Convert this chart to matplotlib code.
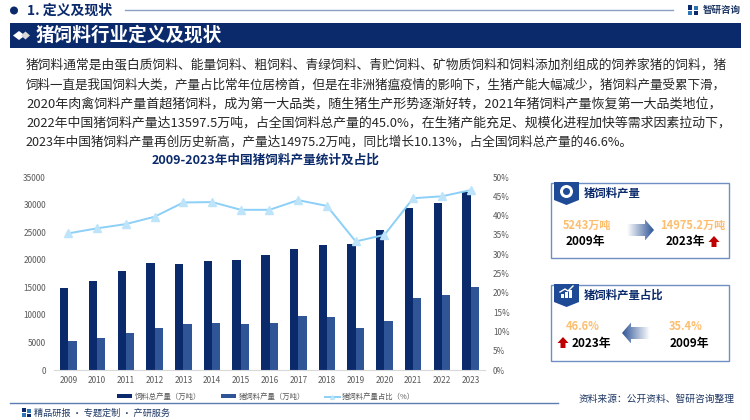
import numpy as np
import matplotlib

matplotlib.use("Agg")
import matplotlib.pyplot as plt
from matplotlib.patches import Circle, Polygon, Rectangle

plt.rcParams["font.family"] = ["Noto Sans CJK SC", "DejaVu Sans"]

NAVY = "#0B2A6B"
BLUE = "#2F5597"
SKY = "#8CCFF7"
SKY_MARK = "#BDE4FB"
ORANGE = "#FDBE70"
RED = "#C00000"
FRAME = "#6F8FC4"
GREY = "#595959"

years = ["2009", "2010", "2011", "2012", "2013", "2014", "2015", "2016",
         "2017", "2018", "2019", "2020", "2021", "2022", "2023"]
total_feed = [14800, 16200, 18000, 19400, 19200, 19700, 19900, 20900,
              22000, 22700, 22800, 25300, 29300, 30200, 32200]
pig_feed = [5243, 5800, 6800, 7700, 8400, 8500, 8300, 8600,
            9800, 9700, 7600, 8900, 13000, 13597.5, 14975.2]
pig_share = [35.4, 36.7, 37.8, 39.7, 43.4, 43.5, 41.5, 41.5,
             44.0, 42.5, 33.3, 35.0, 44.5, 45.0, 46.6]

left_ticks = [0, 5000, 10000, 15000, 20000, 25000, 30000, 35000]
right_ticks = [0, 5, 10, 15, 20, 25, 30, 35, 40, 45, 50]

body_lines = [
    "猪饲料通常是由蛋白质饲料、能量饲料、粗饲料、青绿饲料、青贮饲料、矿物质饲料和饲料添加剂组成的饲养家猪的饲料，猪",
    "饲料一直是我国饲料大类，产量占比常年位居榜首，但是在非洲猪瘟疫情的影响下，生猪产能大幅减少，猪饲料产量受累下滑，",
    "2020年肉禽饲料产量首超猪饲料，成为第一大品类，随生猪生产形势逐渐好转，2021年猪饲料产量恢复第一大品类地位，",
    "2022年中国猪饲料产量达13597.5万吨，占全国饲料总产量的45.0%，在生猪产能充足、规模化进程加快等需求因素拉动下，",
    "2023年中国猪饲料产量再创历史新高，产量达14975.2万吨，同比增长10.13%，占全国饲料总产量的46.6%。",
]
# digits run wider in the original face, so each line gets its own size to end in the same place
body_sizes = [9.15, 9.04, 9.4, 9.3, 9.1]

fig = plt.figure(figsize=(7.5, 4.2), dpi=100, facecolor="white")

# full-figure layer in pixel coordinates for the page furniture
page = fig.add_axes([0, 0, 1, 1])
page.set_xlim(0, 750)
page.set_ylim(420, 0)
page.axis("off")
page.set_autoscale_on(False)


def logo(x, y, size):
    page.add_patch(Rectangle((x, y), size * 0.42, size * 0.45, fc=NAVY, ec="none"))
    page.add_patch(Rectangle((x, y + size * 0.55), size * 0.42, size * 0.45, fc="#2E75B6", ec="none"))
    page.add_patch(Rectangle((x + size * 0.55, y + size * 0.1), size * 0.45, size * 0.4, fc="#2E75B6", ec="none"))
    page.add_patch(Rectangle((x + size * 0.55, y + size * 0.62), size * 0.45, size * 0.38, fc=NAVY, ec="none"))


def gradient_arrow(x0, x1, y, point_right=True):
    # block arrow fading out towards its tail
    head = 9
    half = 6
    tip = 10.5
    if point_right:
        pts = [(x0, y - half), (x1 - head, y - half), (x1 - head, y - tip), (x1, y),
               (x1 - head, y + tip), (x1 - head, y + half), (x0, y + half)]
        alpha = np.linspace(0.0, 1.0, 64)
    else:
        pts = [(x1, y - half), (x0 + head, y - half), (x0 + head, y - tip), (x0, y),
               (x0 + head, y + tip), (x0 + head, y + half), (x1, y + half)]
        alpha = np.linspace(1.0, 0.0, 64)
    rgba = np.ones((1, 64, 4))
    rgba[..., 0], rgba[..., 1], rgba[..., 2] = 0.18, 0.33, 0.59
    rgba[..., 3] = alpha
    im = page.imshow(rgba, extent=(x0, x1, y + tip, y - tip), aspect="auto", zorder=3)
    im.set_clip_path(Polygon(pts, transform=page.transData))


def up_arrow(x, y):
    pts = [(x, y - 6), (x + 5.5, y), (x + 2.5, y), (x + 2.5, y + 5),
           (x - 2.5, y + 5), (x - 2.5, y), (x - 5.5, y)]
    page.add_patch(Polygon(pts, fc=RED, ec="none", zorder=3))


def panel(top, bottom, title):
    page.add_patch(Rectangle((551, top), 178, bottom - top, fc="white", ec=FRAME, lw=1))
    badge = [(554, top - 1), (579, top - 1), (579, top + 17), (566.5, top + 22), (554, top + 17)]
    page.add_patch(Polygon(badge, fc="#1F4A96", ec="none", zorder=3))
    page.text(584, top + 10, title, fontsize=8.2, fontweight="bold", color=NAVY, va="center", ha="left")


# header row
page.add_patch(Circle((14, 10.5), 4, fc=NAVY, ec="none"))
page.text(27, 10.5, "1. 定义及现状", fontsize=10, fontweight="bold", color=NAVY, va="center", ha="left")
page.plot([125, 673], [10, 10], color="#8E9FC6", lw=1)
logo(688, 5, 10)
page.text(703, 10, "智研咨询", fontsize=6.8, fontweight="bold", color="#1F3864", va="center", ha="left")

# title band
page.add_patch(Rectangle((10, 23), 731, 25, fc=NAVY, ec="none"))
page.add_patch(Polygon([(13, 35.5), (19, 31), (25, 35.5), (19, 40)], fc="white", ec="none"))
page.add_patch(Polygon([(21, 35.5), (25.5, 31.5), (30, 35.5), (25.5, 39.5)], fc="#D9D9D9", ec="none"))
page.text(36, 35, "猪饲料行业定义及现状", fontsize=13.4, fontweight="bold", color="white", va="center", ha="left")

# body paragraph
for line, y, size in zip(body_lines, [65, 85, 104, 123, 142], body_sizes):
    page.text(26, y, line, fontsize=size, color="#262626", va="center", ha="left")

page.text(266, 160, "2009-2023年中国猪饲料产量统计及占比", fontsize=9.1, fontweight="bold",
          color=NAVY, va="center", ha="center")

# production panel
panel(183, 258, "猪饲料产量")
page.add_patch(Circle((566.5, 191.5), 6.5, fc="white", ec="none", zorder=4))
page.add_patch(Circle((566.5, 191.5), 3.5, fc="#1F4A96", ec="none", zorder=4))
page.text(587, 225, "5243万吨", fontsize=8, fontweight="bold", color=ORANGE, va="center", ha="center")
page.text(693, 225, "14975.2万吨", fontsize=8, fontweight="bold", color=ORANGE, va="center", ha="center")
page.text(585, 241, "2009年", fontsize=8.5, fontweight="bold", color="black", va="center", ha="center")
page.text(685, 241, "2023年", fontsize=8.5, fontweight="bold", color="black", va="center", ha="center")
up_arrow(714, 242)
gradient_arrow(627, 654, 230, point_right=True)

# share panel
panel(285, 361, "猪饲料产量占比")
for x, h in zip([561, 565, 569], [4, 6, 8]):
    page.add_patch(Rectangle((x, 298 - h), 2.5, h, fc="white", ec="none", zorder=4))
page.plot([560, 565, 568, 573], [292, 289, 291, 286], color="white", lw=1, zorder=4)
page.text(583, 327, "46.6%", fontsize=8, fontweight="bold", color=ORANGE, va="center", ha="center")
page.text(686, 327, "35.4%", fontsize=8, fontweight="bold", color=ORANGE, va="center", ha="center")
page.text(591, 344, "2023年", fontsize=8.5, fontweight="bold", color="black", va="center", ha="center")
page.text(689, 344, "2009年", fontsize=8.5, fontweight="bold", color="black", va="center", ha="center")
up_arrow(563, 343)
gradient_arrow(622, 650, 333, point_right=False)

# footer
page.plot([10, 558], [403, 403], color="#5B7DB1", lw=1)
logo(22, 408, 9)
page.text(34, 413, "精品研报 · 专题定制 · 产研服务", fontsize=6.6, color="#1F3864", va="center", ha="left")
page.text(579, 399, "资料来源：公开资料、智研咨询整理", fontsize=7, color="#1F3864", va="center", ha="left")

# the chart itself
ax = fig.add_axes([54 / 750, 1 - 370 / 420, 431 / 750, 193 / 420])
ax.patch.set_alpha(0)
x = np.arange(len(years))
width = 0.29
bars_total = ax.bar(x - width / 2, total_feed, width, color=NAVY, label="饲料总产量（万吨）")
bars_pig = ax.bar(x + width / 2, pig_feed, width, color=BLUE, label="猪饲料产量（万吨）")
ax.set_xlim(-0.5, len(years) - 0.5)
ax.set_ylim(0, 35000)
ax.set_xticks(x)
ax.set_xticklabels(years)
ax.set_yticks(left_ticks)
ax.tick_params(axis="both", length=0, labelsize=5.9, labelcolor=GREY)
ax.tick_params(axis="y", pad=5.8)
ax.tick_params(axis="x", pad=4)
for side in ["top", "left", "right"]:
    ax.spines[side].set_visible(False)
ax.spines["bottom"].set_color("#D9D9D9")

ax2 = ax.twinx()
ax2.patch.set_alpha(0)
share_line, = ax2.plot(x, pig_share, color=SKY, lw=1.4, marker="^", ms=6,
                       mfc=SKY_MARK, mec=SKY_MARK, label="猪饲料产量占比（%）")
ax2.set_ylim(0, 50)
ax2.set_yticks(right_ticks)
ax2.set_yticklabels([f"{t}%" for t in right_ticks])
ax2.tick_params(axis="y", length=0, labelsize=5.9, labelcolor=GREY, pad=5.8)
for side in ["top", "left", "right", "bottom"]:
    ax2.spines[side].set_visible(False)

ax2.legend(handles=[bars_total, bars_pig, share_line], ncol=3, frameon=False,
           loc="center", bbox_to_anchor=(266 / 750, 1 - 397 / 420), bbox_transform=fig.transFigure,
           fontsize=5.3, labelcolor=GREY, handlelength=2.1, handleheight=0.5,
           handletextpad=0.3, columnspacing=2.7, markerscale=0.45)

fig.savefig("out.png", dpi=100)
plt.close(fig)
